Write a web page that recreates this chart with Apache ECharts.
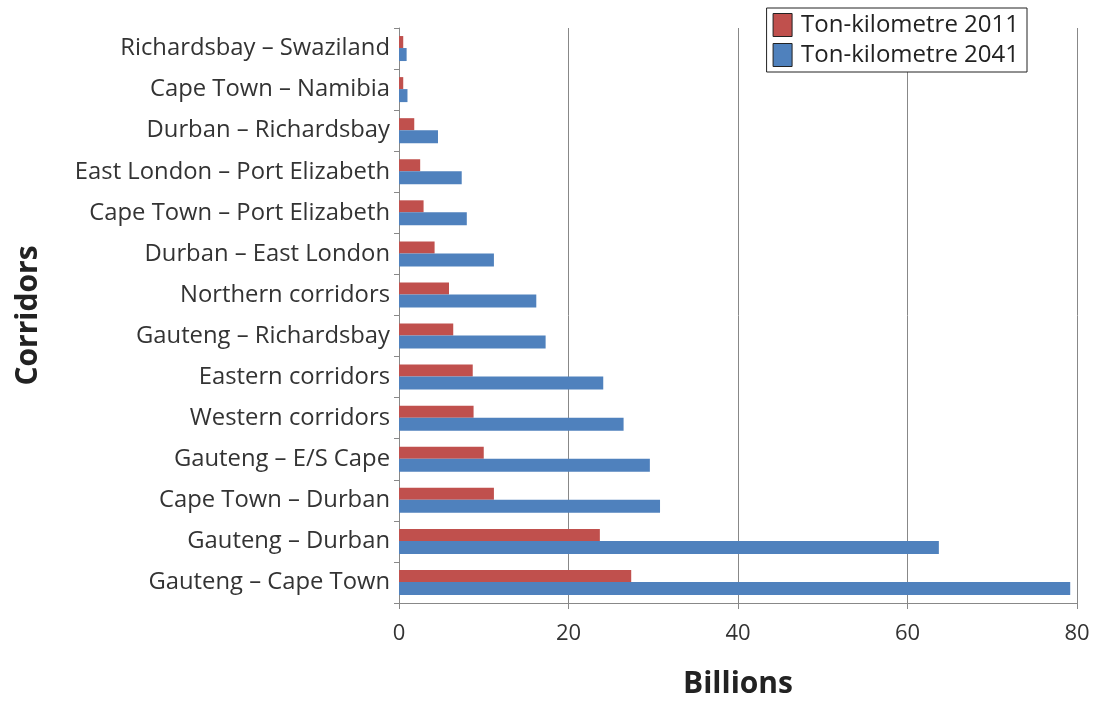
<!DOCTYPE html>
<html><head><meta charset="utf-8">
<script src="https://cdn.jsdelivr.net/npm/echarts@6/dist/echarts.min.js"></script>
<style>html,body{margin:0;padding:0;background:#fff}#c{width:1093px;height:701px}</style>
</head><body><div id="c"></div>
<script>
const categories = ["Gauteng – Cape Town","Gauteng – Durban","Cape Town – Durban","Gauteng – E/S Cape","Western corridors","Eastern corridors","Gauteng – Richardsbay","Northern corridors","Durban – East London","Cape Town – Port Elizabeth","East London – Port Elizabeth","Durban – Richardsbay","Cape Town – Namibia","Richardsbay – Swaziland"];
const tk2011 = [27.4,23.7,11.2,10.0,8.8,8.7,6.4,5.9,4.2,2.9,2.5,1.8,0.5,0.5];
const tk2041 = [79.2,63.7,30.8,29.6,26.5,24.1,17.3,16.2,11.2,8.0,7.4,4.6,1.0,0.9];
const seriesNames = ["Ton-kilometre 2011","Ton-kilometre 2041"];
const xTicks = {min:0,max:80,interval:20};

const chart = echarts.init(document.getElementById('c'));
const font = "'Open Sans', 'Noto Sans', sans-serif";
chart.setOption({
  animation:false,
  textStyle:{fontFamily:font},
  grid:{left:399,right:16,top:28,bottom:98,outerBoundsMode:'none',containLabel:false},
  legend:{
    orient:'vertical', right:66, top:8, data:seriesNames,
    itemWidth:19, itemHeight:23, itemGap:6,
    borderColor:'#222', borderWidth:1, backgroundColor:'#fff', padding:[5,8,5,6],
    itemStyle:{borderColor:'#222',borderWidth:1},
    textStyle:{fontSize:24,color:'#222',fontFamily:font,padding:[0,0,0,4]},
    icon:'rect'
  },
  xAxis:{
    type:'value', min:xTicks.min, max:xTicks.max, interval:xTicks.interval,
    name:'Billions', nameLocation:'middle', nameGap:66,
    nameTextStyle:{fontSize:30,fontWeight:'bold',color:'#222',fontFamily:font},
    axisLine:{show:true,lineStyle:{color:'#888'}},
    axisTick:{show:true,length:6,lineStyle:{color:'#888'}},
    axisLabel:{fontSize:22,color:'#333',margin:20},
    splitLine:{show:true,lineStyle:{color:'#888',width:1}}
  },
  yAxis:{
    type:'category', data:categories,
    name:'Corridors', nameLocation:'middle', nameGap:356, nameRotate:90,
    nameTextStyle:{fontSize:30,fontWeight:'bold',color:'#222',fontFamily:font},
    axisLine:{show:true,lineStyle:{color:'#888'}},
    axisTick:{show:true,length:5,lineStyle:{color:'#888'}},
    axisLabel:{fontSize:23.8,color:'#333',margin:9}
  },
  series:[
    {name:seriesNames[0], type:'bar', data:tk2011, barWidth:12, barGap:'0%',
     itemStyle:{color:'#C0504D'}},
    {name:seriesNames[1], type:'bar', data:tk2041, barWidth:13, barGap:'0%',
     itemStyle:{color:'#4F81BD'}}
  ]
});
</script></body></html>
